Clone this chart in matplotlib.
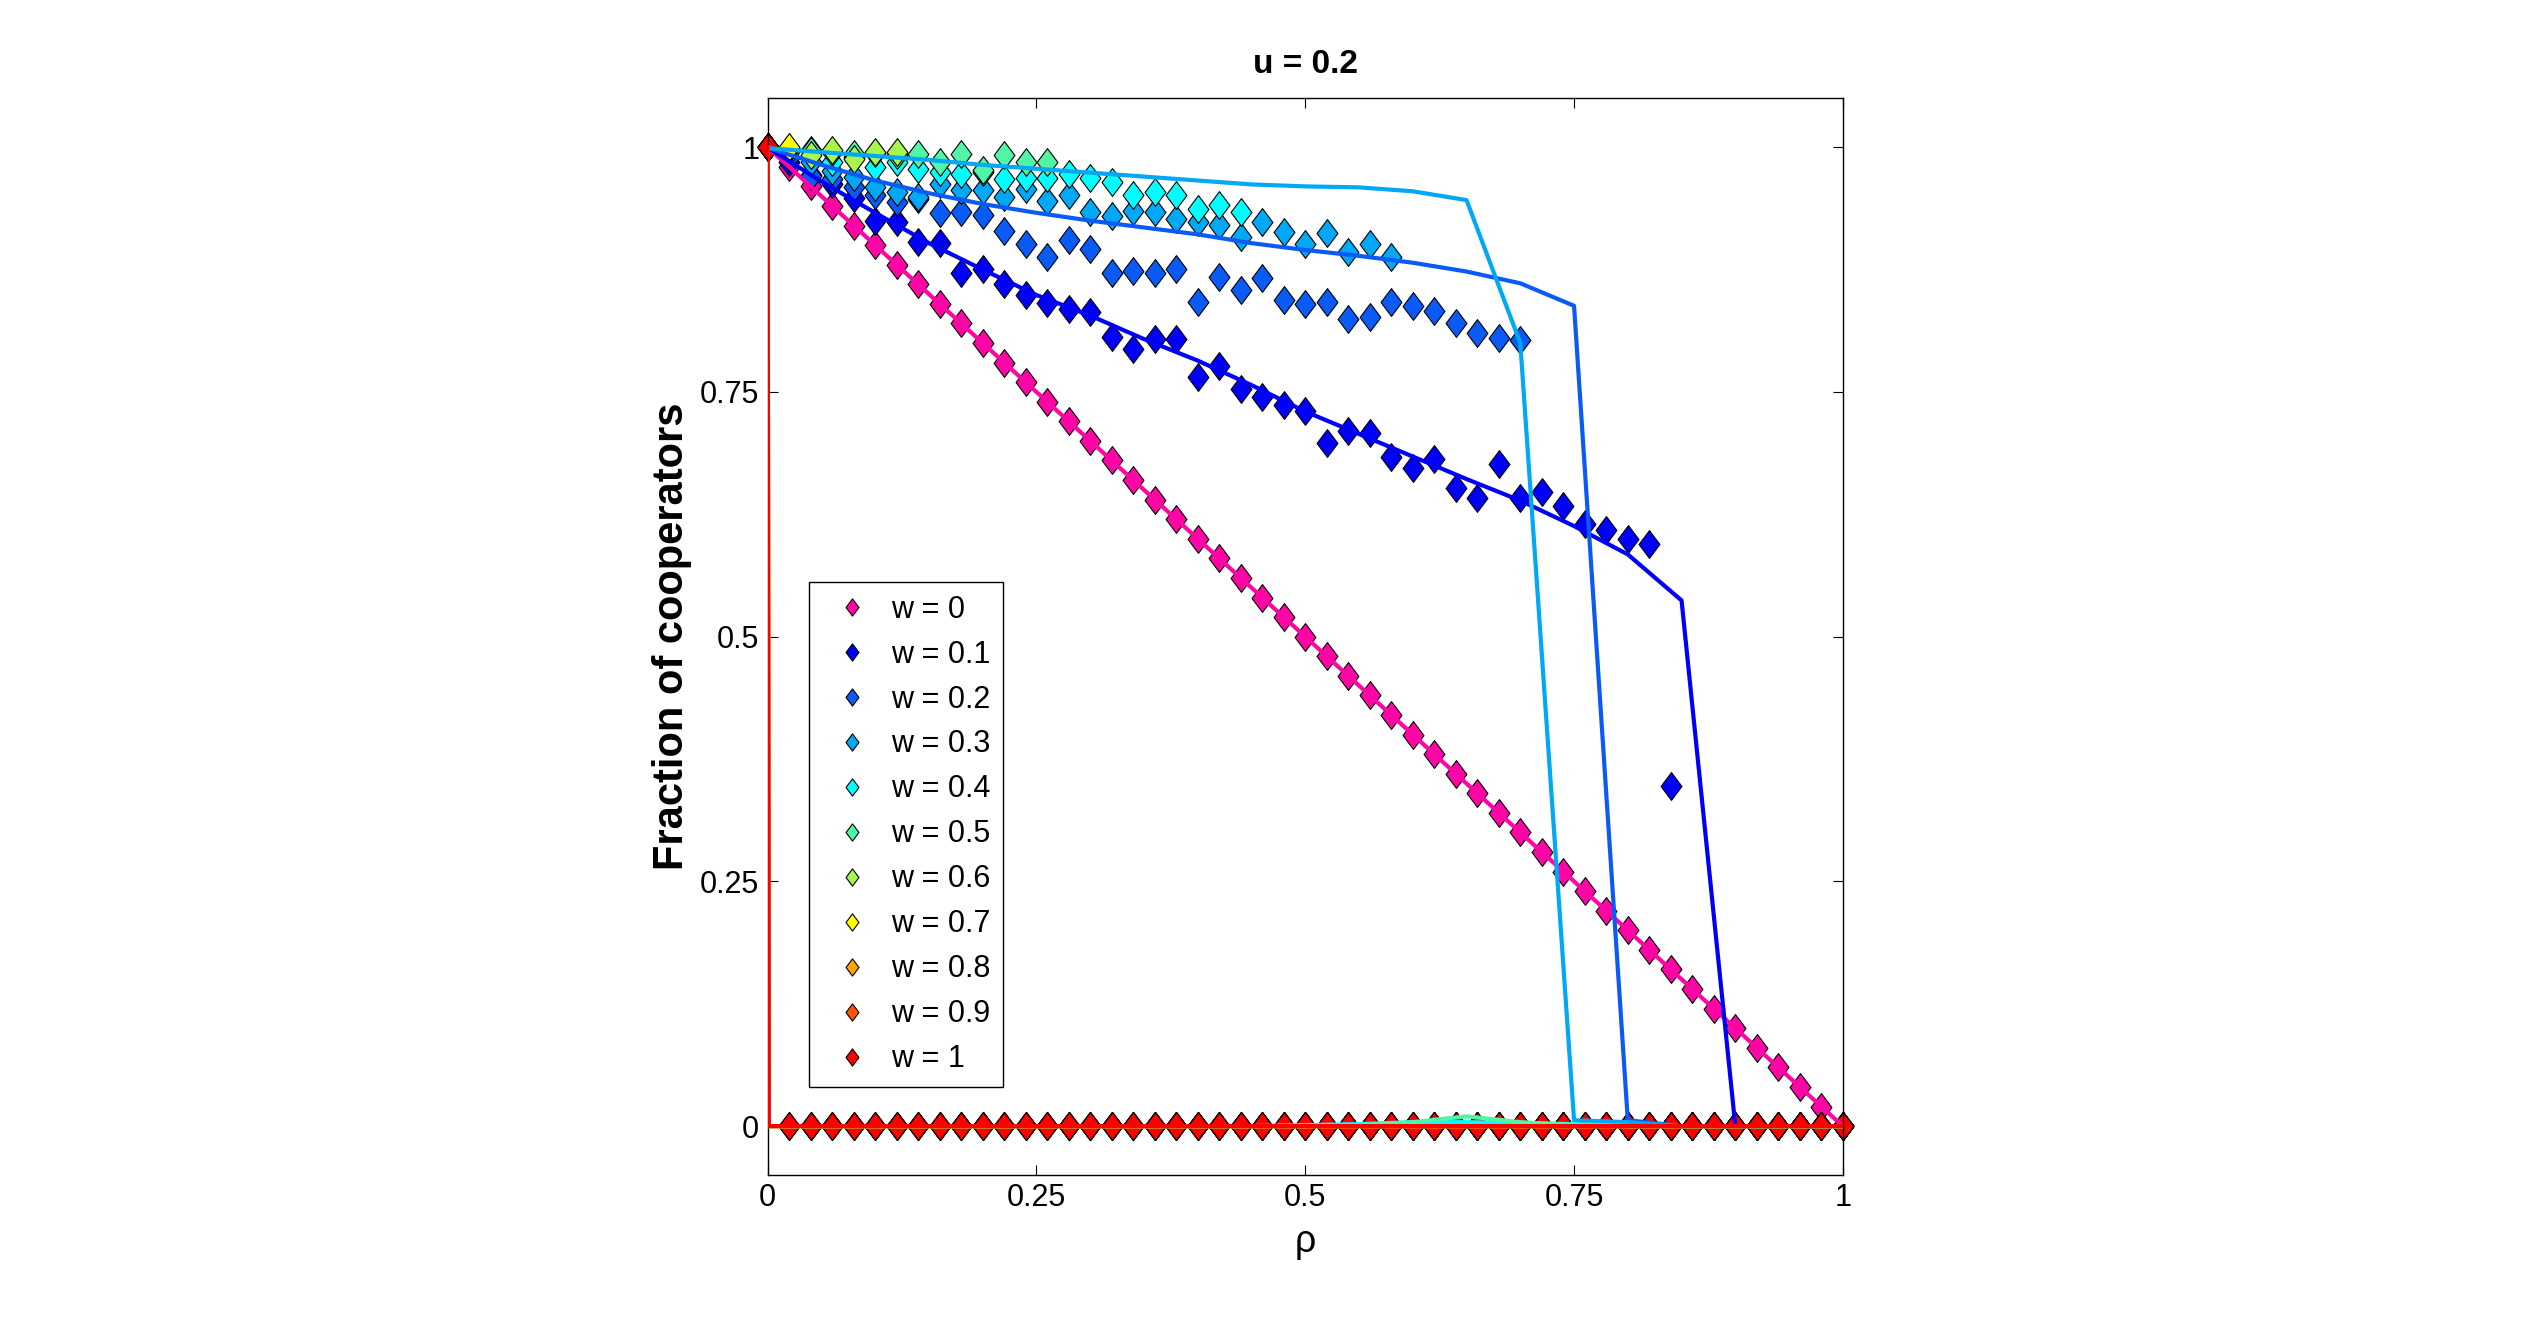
import numpy as np
import matplotlib
matplotlib.use('Agg')
import matplotlib.pyplot as plt
from matplotlib.path import Path

plt.rcParams['font.family'] = ['Liberation Sans', 'DejaVu Sans']

# simulation points, rho = 0, 0.02, ..., 1
rho = [round(0.02 * i, 2) for i in range(51)]

w_labels = ['w = 0', 'w = 0.1', 'w = 0.2', 'w = 0.3', 'w = 0.4', 'w = 0.5',
            'w = 0.6', 'w = 0.7', 'w = 0.8', 'w = 0.9', 'w = 1']
colors = ['#FF05A5', '#0000F8', '#0A5AF5', '#00A8F5', '#00FFFF', '#50F5A5',
          '#A8F550', '#FFFF00', '#FFA500', '#FF5500', '#FF0000']

sim_w00 = [1.00, 0.98, 0.96, 0.94, 0.92, 0.90, 0.88, 0.86, 0.84, 0.82, 0.80,
           0.78, 0.76, 0.74, 0.72, 0.70, 0.68, 0.66, 0.64, 0.62, 0.60, 0.58,
           0.56, 0.54, 0.52, 0.50, 0.48, 0.46, 0.44, 0.42, 0.40, 0.38, 0.36,
           0.34, 0.32, 0.30, 0.28, 0.26, 0.24, 0.22, 0.20, 0.18, 0.16, 0.14,
           0.12, 0.10, 0.08, 0.06, 0.04, 0.02, 0.00]
sim_w01 = [1.0, 0.985, 0.972, 0.962, 0.948, 0.925, 0.924, 0.903, 0.902, 0.871,
           0.876, 0.860, 0.849, 0.841, 0.835, 0.832, 0.806, 0.794, 0.804, 0.804,
           0.765, 0.777, 0.753, 0.745, 0.737, 0.731, 0.698, 0.710, 0.708, 0.684,
           0.672, 0.681, 0.652, 0.642, 0.676, 0.642, 0.648, 0.633, 0.615, 0.609,
           0.600, 0.595, 0.347] + [0.0] * 8
sim_w02 = [1.0, 0.990, 0.971, 0.968, 0.959, 0.951, 0.944, 0.947, 0.933, 0.934,
           0.931, 0.914, 0.901, 0.888, 0.905, 0.896, 0.871, 0.874, 0.871, 0.876,
           0.842, 0.867, 0.854, 0.866, 0.844, 0.840, 0.842, 0.825, 0.827, 0.842,
           0.838, 0.833, 0.820, 0.810, 0.805, 0.803] + [0.0] * 15
sim_w03 = [1.0, 0.995, 0.985, 0.976, 0.970, 0.959, 0.954, 0.949, 0.962, 0.956,
           0.956, 0.949, 0.957, 0.945, 0.951, 0.934, 0.930, 0.935, 0.934, 0.927,
           0.924, 0.921, 0.908, 0.924, 0.913, 0.901, 0.912, 0.893, 0.901,
           0.888] + [0.0] * 21
sim_w04 = [1.0, 0.998, 0.997, 0.985, 0.990, 0.980, 0.985, 0.978, 0.975, 0.973,
           0.975, 0.968, 0.969, 0.969, 0.973, 0.969, 0.964, 0.951, 0.954, 0.951,
           0.937, 0.941, 0.934] + [0.0] * 28
sim_w05 = [1.0, 0.998, 0.996, 0.995, 0.993, 0.994, 0.992, 0.993, 0.985, 0.993,
           0.977, 0.992, 0.985, 0.985] + [0.0] * 37
sim_w06 = [1.0, 0.999, 0.992, 0.997, 0.988, 0.995, 0.995] + [0.0] * 44
sim_w07 = [1.0, 1.0] + [0.0] * 49
sim_w08 = [1.0] + [0.0] * 50
sim_w09 = [1.0] + [0.0] * 50
sim_w10 = [1.0] + [0.0] * 50
sims = [sim_w00, sim_w01, sim_w02, sim_w03, sim_w04, sim_w05,
        sim_w06, sim_w07, sim_w08, sim_w09, sim_w10]

# theory curves
rho_th = [0.0, 0.001, 0.05, 0.10, 0.15, 0.20, 0.25, 0.30, 0.35, 0.40, 0.45,
          0.50, 0.55, 0.60, 0.65, 0.70, 0.75, 0.80, 0.85, 0.90, 0.95, 1.0]
th_w00 = [1.0, 0.999, 0.95, 0.90, 0.85, 0.80, 0.75, 0.70, 0.65, 0.60, 0.55,
          0.50, 0.45, 0.40, 0.35, 0.30, 0.25, 0.20, 0.15, 0.10, 0.05, 0.0]
th_w01 = [1.0, 0.999, 0.965, 0.933, 0.902, 0.875, 0.849, 0.828, 0.804, 0.782,
          0.757, 0.730, 0.707, 0.684, 0.661, 0.639, 0.613, 0.584, 0.537, 0.0,
          0.0, 0.0]
th_w02 = [1.0, 0.999, 0.982, 0.966, 0.953, 0.942, 0.933, 0.925, 0.918, 0.911,
          0.902, 0.895, 0.889, 0.882, 0.873, 0.861, 0.838, 0.006, 0.0, 0.0,
          0.0, 0.0]
th_w03 = [1.0, 0.999, 0.995, 0.991, 0.987, 0.982, 0.978, 0.974, 0.970, 0.966,
          0.962, 0.960, 0.959, 0.955, 0.946, 0.800, 0.006, 0.004, 0.0, 0.0,
          0.0, 0.0]
th_w04 = [1.0, 0.0, 0.0, 0.0, 0.0, 0.0, 0.0, 0.0, 0.0, 0.0, 0.0, 0.001,
          0.002, 0.004, 0.004, 0.003, 0.002, 0.0, 0.0, 0.0, 0.0, 0.0]
th_w05 = [1.0, 0.0, 0.0, 0.0, 0.0, 0.0, 0.0, 0.0, 0.0, 0.0, 0.0, 0.0,
          0.001, 0.004, 0.010, 0.004, 0.001, 0.0, 0.0, 0.0, 0.0, 0.0]
th_w06 = [1.0] + [0.0] * 21
th_w07 = [1.0] + [0.0] * 21
th_w08 = [1.0] + [0.0] * 21
th_w09 = [1.0] + [0.0] * 21
th_w10 = [1.0] + [0.0] * 21
ths = [th_w00, th_w01, th_w02, th_w03, th_w04, th_w05,
       th_w06, th_w07, th_w08, th_w09, th_w10]

# diamond a bit taller than wide, like the original
diamond = Path([(0, 1), (0.75, 0), (0, -1), (-0.75, 0), (0, 1)],
               [Path.MOVETO, Path.LINETO, Path.LINETO, Path.LINETO, Path.CLOSEPOLY])

fig = plt.figure(figsize=(25.21, 13.21), dpi=100)
ax = fig.add_axes([0.3045, 0.1105, 0.4265, 0.8151])

handles = []
for i in range(len(sims)):
    h, = ax.plot(rho, sims[i], linestyle='none', marker=diamond, markersize=20,
                 markerfacecolor=colors[i], markeredgecolor='black',
                 markeredgewidth=0.8, label=w_labels[i], clip_on=False, zorder=2)
    handles.append(h)

for i in range(len(ths)):
    ax.plot(rho_th, ths[i], color=colors[i], linewidth=3, zorder=3)

ax.set_xlim(0, 1)
ax.set_ylim(-0.05, 1.05)
ax.set_xticks([0, 0.25, 0.5, 0.75, 1])
ax.set_xticklabels(['0', '0.25', '0.5', '0.75', '1'])
ax.set_yticks([0, 0.25, 0.5, 0.75, 1])
ax.set_yticklabels(['0', '0.25', '0.5', '0.75', '1'])
ax.tick_params(direction='in', top=True, right=True, length=7, width=0.8,
               labelsize=22, pad=6)
for s in ax.spines.values():
    s.set_linewidth(1.0)

ax.set_title('u = 0.2', fontsize=24, fontweight='bold', pad=18)
ax.set_ylabel('Fraction of cooperators', fontsize=30, fontweight='bold', labelpad=6)
ax.set_xlabel('ρ', fontsize=27, labelpad=8)

leg = ax.legend(handles=handles, loc='lower left', bbox_to_anchor=(0.0384, 0.0822),
                borderaxespad=0, fontsize=22, markerscale=0.62, numpoints=1,
                fancybox=False, framealpha=1, edgecolor='black',
                borderpad=0.4, handlelength=2.0, handletextpad=0.3, labelspacing=0.49)
leg.get_frame().set_linewidth(1.0)

fig.savefig('out.png', dpi=100)
